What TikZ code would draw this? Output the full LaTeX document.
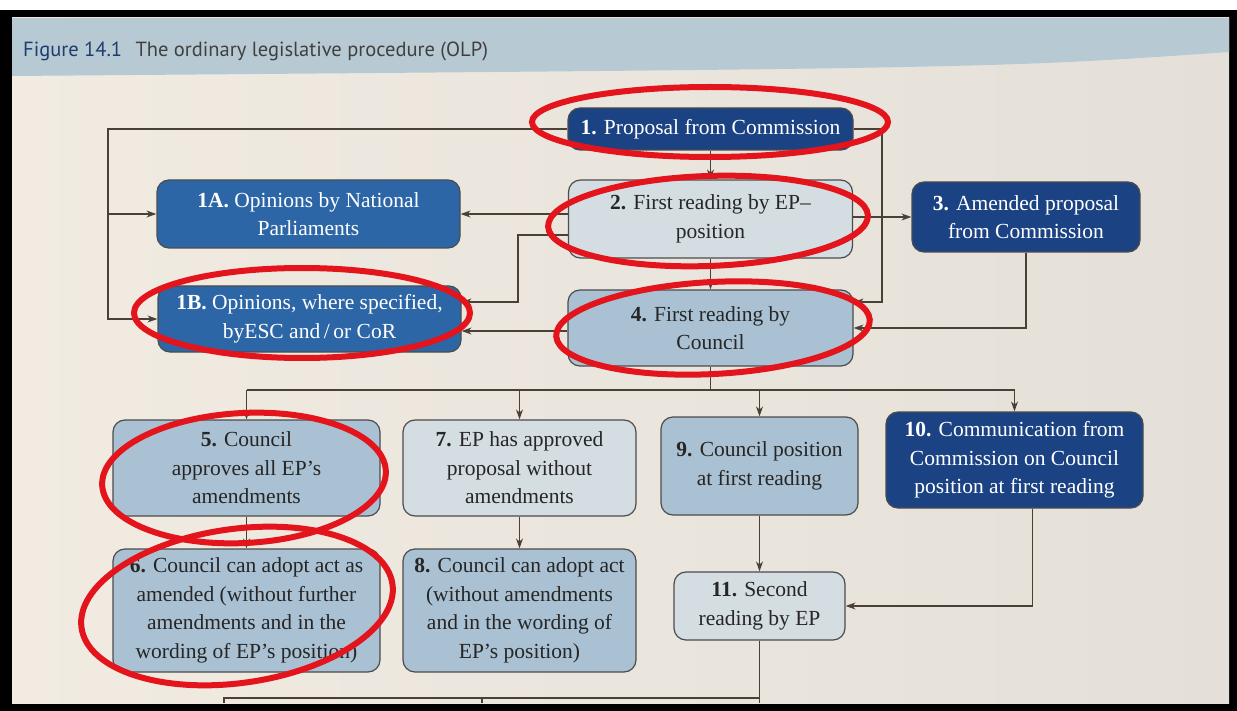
\documentclass[tikz,border=0pt]{standalone}
\usepackage{fontspec}
\setmainfont{Liberation Serif}
\newfontfamily\headfont{PT Sans}
\usetikzlibrary{arrows.meta,calc}

\definecolor{navy}{HTML}{1B4384}
\definecolor{midblue}{HTML}{2D66A6}
\definecolor{palegrey}{HTML}{D4DDE2}
\definecolor{greyblue}{HTML}{A9C1D2}
\definecolor{linebrown}{HTML}{4A4038}
\definecolor{pagecream}{HTML}{F1EBE1}
\definecolor{pageshade}{HTML}{E4E0D9}
\definecolor{bandblue}{HTML}{B7CAD3}
\definecolor{markred}{HTML}{E3141C}
\definecolor{titleblue}{HTML}{1E3D6E}

\tikzset{
	box/.style={draw=black!70, line width=1.2pt, rounded corners=12pt, align=center, inner sep=0pt, font=\fontsize{21.5}{28.5}\selectfont},
	darkbox/.style={box, fill=navy, text=white},
	bluebox/.style={box, fill=midblue, text=white},
	palebox/.style={box, fill=palegrey, text=black!85},
	greybox/.style={box, fill=greyblue, text=black!85},
	conn/.style={draw=linebrown, line width=1.4pt},
	arr/.style={conn, -{Stealth[length=10pt,width=7pt]}},
	ring/.style={draw=markred, line width=6pt},
}

\begin{document}
\begin{tikzpicture}[x=1pt, y=-1pt]
			%%%%% START %%%%%
			\useasboundingbox (0,0) rectangle (1237,711);
			
			\fill[white] (0,0) rectangle (1237,10);
			\fill[black] (0,10) rectangle (1237,711);
			\shade[left color=pagecream, right color=pageshade] (12,18) rectangle (1229,703);
			\fill[bandblue] (12,18) -- (1229,18) -- (1229,52) .. controls (1000,68) .. (12,76) -- cycle;
			
			\node[anchor=base west, inner sep=0pt, font=\headfont\fontsize{20.5}{24}\selectfont, text=titleblue] (fig) at (23,57) {Figure 14.1};
			\node[anchor=base west, inner sep=0pt, font=\headfont\fontsize{20.5}{24}\selectfont, text=black!75] (ttl) at ([xshift=13pt]fig.base east) {The ordinary legislative procedure (OLP)};
			
			% top row
			\node[darkbox, minimum width=285pt, minimum height=42pt] (b1) at (710.5,129) {\textbf{1.} Proposal from Commission};
			\node[palebox, minimum width=284pt, minimum height=78pt] (b2) at (710.5,219) {\textbf{2.} First reading by EP--\\position};
			\node[darkbox, minimum width=228pt, minimum height=70pt] (b3) at (1026,217) {\textbf{3.} Amended proposal\\from Commission};
			\node[bluebox, minimum width=303pt, minimum height=68pt] (b1a) at (308.5,214) {\textbf{1A.} Opinions by National\\Parliaments};
			\node[bluebox, minimum width=303pt, minimum height=66pt] (b1b) at (309.5,319) {\textbf{1B.} Opinions, where specified,\\byESC and\,/\,or CoR};
			\node[greybox, minimum width=285pt, minimum height=76pt] (b4) at (710.5,328) {\textbf{4.} First reading by\\Council};
			
			% second row
			\node[greybox, minimum width=267pt, minimum height=96pt] (b5) at (246.5,468) {\textbf{5.} Council\\approves all EP's\\amendments};
			\node[palebox, minimum width=233pt, minimum height=96pt] (b7) at (519.5,468) {\textbf{7.} EP has approved\\proposal without\\amendments};
			\node[greybox, minimum width=197pt, minimum height=98pt] (b9) at (759.5,466) {\textbf{9.} Council position\\at first reading};
			\node[darkbox, minimum width=257pt, minimum height=96pt] (b10) at (1014.5,460) {\textbf{10.} Communication from\\Commission on Council\\position at first reading};
			
			% third row
			\node[greybox, minimum width=267pt, minimum height=123pt] (b6) at (246.5,610.5) {\textbf{6.} Council can adopt act as\\amended (without further\\amendments and in the\\wording of EP's position)};
			\node[greybox, minimum width=233pt, minimum height=123pt] (b8) at (519.5,610.5) {\textbf{8.} Council can adopt act\\(without amendments\\and in the wording of\\EP's position)};
			\node[palebox, minimum width=171pt, minimum height=68pt] (b11) at (759.5,606) {\textbf{11.} Second\\reading by EP};
			
			% connectors
			\coordinate (lft) at (108,129);
			\coordinate (rgt) at (882,129);
			\coordinate (mid) at (518,302);
			\coordinate (bus) at (710.5,390);
			
			\draw[arr] (b1.west) -- (lft) |- (b1b.west);
			\draw[arr] (lft |- b1a.west) -- (b1a.west);
			\draw[arr] (b1.east) -- (rgt) |- ([yshift=26pt]b4.east);
			\draw[arr] (b1) -- (b2);
			\draw[arr] (b2) -- (b4);
			\draw[arr] (b3.west -| b2.east) -- (b3.west);
			\draw[arr] (b2.west |- b1a.east) -- (b1a.east);
			\draw[arr] ([yshift=-16pt]b2.west) -| (mid) -- (mid -| b1b.east);
			\draw[arr] ([yshift=-12pt]b1b.east -| b4.west) -- ([yshift=-12pt]b1b.east);
			\draw[arr] (b3.south) |- (b4.east);
			
			\draw[conn] (b4.south) -- (bus);
			\draw[conn] (bus -| b5.north) -- (bus -| b10.north);
			\foreach \b in {b5,b7,b9,b10}
				\draw[arr] (bus -| \b.north) -- (\b.north);
			
			\draw[arr] (b5) -- (b6);
			\draw[arr] (b7) -- (b8);
			\draw[arr] (b9) -- (b11);
			\draw[arr] ([xshift=18pt]b10.south) |- (b11.east);
			
			\coordinate (botL) at (224,698);
			\coordinate (botM) at (482,698);
			\draw[conn] (b11.south) -- (b11.south |- 0,703);
			\draw[conn] (botL |- 0,703) -- (botL) -- (botL -| b11.south);
			\draw[conn] (botM) -- (botM |- 0,703);
			
			% red marks
			\draw[ring] (710,122) ellipse [x radius=178, y radius=35];
			\draw[ring, rotate around={2:(708,221)}] (708,221) ellipse [x radius=160, y radius=45];
			\draw[ring] (302,313) ellipse [x radius=168, y radius=45];
			\draw[ring, rotate around={3:(713,328)}] (713,328) ellipse [x radius=157, y radius=46];
			\draw[ring, rotate around={3:(244,478)}] (244,478) ellipse [x radius=142, y radius=65];
			\draw[ring, rotate around={8:(237,606)}] (237,606) ellipse [x radius=157, y radius=77];
			
			%%%%% END %%%%%
\end{tikzpicture}
\end{document}
